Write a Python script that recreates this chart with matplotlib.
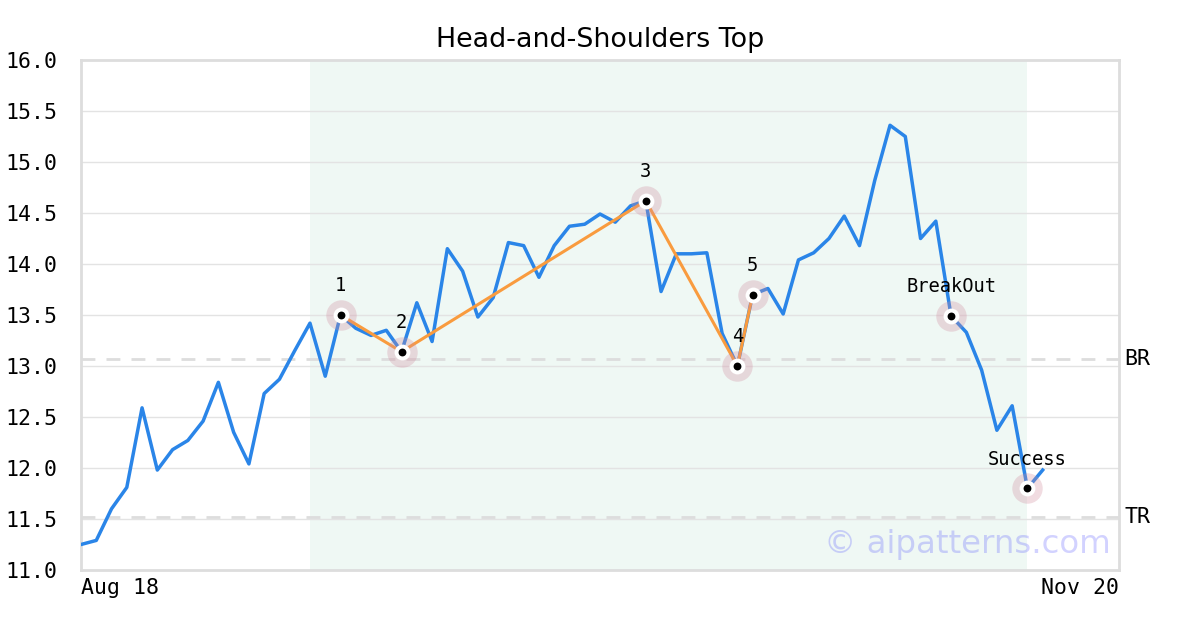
import matplotlib
matplotlib.use("Agg")
import matplotlib.pyplot as plt

# ---- data ----
prices = [11.25, 11.29, 11.60, 11.81, 12.59, 11.98, 12.18, 12.27, 12.46, 12.84,
          12.35, 12.04, 12.73, 12.87, 13.15, 13.42, 12.90, 13.50, 13.37, 13.30,
          13.35, 13.14, 13.62, 13.24, 14.15, 13.93, 13.48, 13.67, 14.21, 14.18,
          13.87, 14.18, 14.37, 14.39, 14.49, 14.41, 14.57, 14.62, 13.73, 14.10,
          14.10, 14.11, 13.32, 13.00, 13.70, 13.76, 13.51, 14.04, 14.11, 14.25,
          14.47, 14.18, 14.82, 15.36, 15.25, 14.25, 14.42, 13.49, 13.33, 12.96,
          12.37, 12.61, 11.80, 11.98]
pattern_idx = [17, 21, 37, 43, 44]
pattern_labels = ["1", "2", "3", "4", "5"]
event_idx = [57, 62]
event_labels = ["BreakOut", "Success"]
shade_range = [15, 62]
br_level = 13.07
tr_level = 11.52
x_tick_labels = ["Aug 18", "Nov 20"]
x_span = [0, 68]
y_ticks = [11.0, 11.5, 12.0, 12.5, 13.0, 13.5, 14.0, 14.5, 15.0, 15.5, 16.0]

mono = "DejaVu Sans Mono"
blue = "#2a85e8"
orange = "#f99b3e"

fig = plt.figure(figsize=(12, 6.3), dpi=100)
ax = fig.add_axes([81/1200, 1 - 570/630, 1038/1200, 510/630])

x = list(range(len(prices)))
ax.axvspan(shade_range[0], shade_range[1], color="#eff8f4", zorder=0, lw=0)
for yv in y_ticks:
    ax.axhline(yv, color="#e3e3e3", lw=1, zorder=1)
ax.axhline(br_level, color="#dddddd", lw=2, ls=(0, (5, 4)), zorder=1)
ax.axhline(tr_level, color="#dddddd", lw=2, ls=(0, (5, 4)), zorder=1)

ax.plot(x, prices, color=blue, lw=2.5, zorder=3)
ax.plot(pattern_idx, [prices[i] for i in pattern_idx], color=orange, lw=2.2, zorder=4)

all_idx = pattern_idx + event_idx
all_lab = pattern_labels + event_labels
mx = all_idx
my = [prices[i] for i in all_idx]
ax.scatter(mx, my, s=480, color=(0.82, 0.55, 0.62, 0.3), lw=0, zorder=5)
ax.scatter(mx, my, s=130, color="white", lw=0, zorder=6)
ax.scatter(mx, my, s=32, color="black", lw=0, zorder=7)
for i, lab in zip(all_idx, all_lab):
    ax.annotate(lab, (i, prices[i]), xytext=(0, 21), textcoords="offset points",
                ha="center", va="center", family=mono, fontsize=13.5, zorder=8)

ax.set_xlim(*x_span)
ax.set_ylim(y_ticks[0], y_ticks[-1])
ax.set_yticks(y_ticks)
ax.set_yticklabels([f"{v:.1f}" for v in y_ticks], family=mono, fontsize=15.5)
ax.set_xticks(x_span)
xl = ax.set_xticklabels(x_tick_labels, family=mono, fontsize=15.5)
xl[0].set_ha("left")
xl[1].set_ha("right")
ax.tick_params(length=0, pad=6)
ax.tick_params(axis="y", pad=17)
for s in ax.spines.values():
    s.set_color("#dddddd")
    s.set_linewidth(2)

ax.text(1.005, br_level, "BR", transform=ax.get_yaxis_transform(), va="center",
        ha="left", family=mono, fontsize=15.5)
ax.text(1.005, tr_level, "TR", transform=ax.get_yaxis_transform(), va="center",
        ha="left", family=mono, fontsize=15.5)

ax.text(0.992, 0.05, "© aipatterns.com", transform=ax.transAxes, ha="right",
        va="center", fontsize=23.3, color=(0.3, 0.3, 1.0, 0.25), zorder=9)

fig.text(0.5, 1 - 40/630, "Head-and-Shoulders Top", ha="center", va="center",
         fontsize=19.4)

fig.savefig("out.png", dpi=100)
